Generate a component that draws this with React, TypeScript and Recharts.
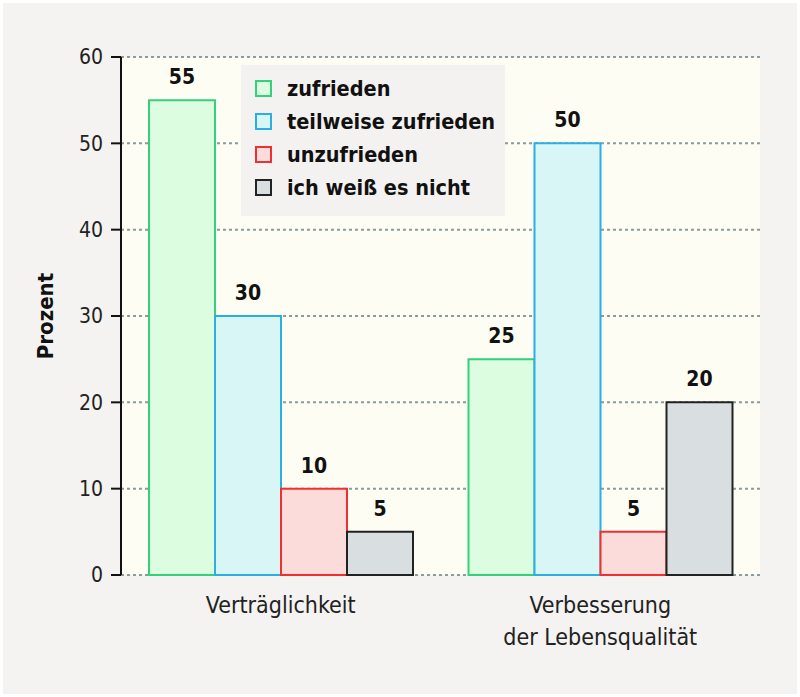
import React from 'react';
import { BarChart, Bar, XAxis, YAxis, CartesianGrid, LabelList, Legend, Label } from 'recharts';

const categories = ['Verträglichkeit', 'Verbesserung\nder Lebensqualität'];
const categoryEdges = [0, 1, 2];
const zufrieden = [55, 25];
const teilweiseZufrieden = [30, 50];
const unzufrieden = [10, 5];
const weissNicht = [5, 20];
const seriesNames = ['zufrieden', 'teilweise zufrieden', 'unzufrieden', 'ich weiß es nicht'];
const yTicks = [0, 10, 20, 30, 40, 50, 60];

const data = categories.map((c, i) => ({
  category: c,
  z: zufrieden[i],
  t: teilweiseZufrieden[i],
  u: unzufrieden[i],
  w: weissNicht[i],
}));

const FONT = '"DejaVu Sans Condensed", "DejaVu Sans", sans-serif';

const seriesStyle = [
  { key: 'z', stroke: '#33d27a', fill: '#dcfde0' },
  { key: 't', stroke: '#2aaee6', fill: '#d9f6f7' },
  { key: 'u', stroke: '#f03030', fill: '#fcdcdb' },
  { key: 'w', stroke: '#222222', fill: '#d9dfe0' },
];

const CategoryTick = (props: any) => {
  const { x, y, payload } = props;
  const lines = String(payload.value).split('\n');
  return (
    <g>
      {lines.map((ln, i) => (
        <text key={i} x={x} y={y + 38 + i * 32} textAnchor="middle" fontSize={23} fontFamily={FONT} fill="#222">
          {ln}
        </text>
      ))}
    </g>
  );
};

const renderLegend = () => (
  <div
    style={{
      background: '#f3f2f0',
      width: 264,
      height: 151,
      boxSizing: 'border-box',
      paddingTop: 7,
      paddingLeft: 14,
      fontFamily: FONT,
    }}
  >
    {seriesNames.map((name, i) => (
      <div key={name} style={{ display: 'flex', alignItems: 'center', height: 33, whiteSpace: 'nowrap' }}>
        <span
          style={{
            display: 'inline-block',
            flex: 'none',
            width: 13,
            height: 13,
            border: `2px solid ${seriesStyle[i].stroke}`,
            background: seriesStyle[i].fill,
            marginRight: 15,
          }}
        />
        <span style={{ fontSize: 21.5, fontWeight: 700, color: '#111' }}>{name}</span>
      </div>
    ))}
  </div>
);

export default function App() {
  return (
    <div style={{ position: 'absolute', left: 0, top: 0, width: 800, height: 697, background: '#ffffff' }}>
      <div style={{ position: 'absolute', left: 3, top: 3, width: 794, height: 691, background: '#f4f3f1' }} />
      <div style={{ position: 'absolute', left: 0, top: 0 }}>
        <BarChart
          width={800}
          height={697}
          data={data}
          margin={{ top: 57, right: 40, bottom: 62, left: 41 }}
          barCategoryGap={28}
          barGap={0}
        >
          <CartesianGrid vertical={false} stroke="#8a9c9e" strokeWidth={2} strokeDasharray="3 3" fill="#fefdf3" />
          <XAxis
            xAxisId="edge"
            type="number"
            domain={[0, 2]}
            ticks={categoryEdges}
            height={0}
            tick={false}
            tickSize={12}
            tickLine={{ stroke: '#111', strokeWidth: 2 }}
            axisLine={{ stroke: '#111', strokeWidth: 2 }}
          />
          <XAxis
            xAxisId="cat"
            dataKey="category"
            height={60}
            tickLine={false}
            axisLine={false}
            tickSize={0}
            tickMargin={0}
            tick={<CategoryTick />}
            interval={0}
          />
          <YAxis
            width={80}
            domain={[0, 60]}
            ticks={yTicks}
            tickSize={10}
            tickMargin={8}
            tick={{ fontSize: 21, fontFamily: FONT, fill: '#222' }}
            tickLine={{ stroke: '#111', strokeWidth: 2 }}
            axisLine={{ stroke: '#111', strokeWidth: 2 }}
          >
            <Label
              value="Prozent"
              angle={-90}
              position="insideLeft"
              offset={4}
              style={{ textAnchor: 'middle', fontSize: 22, fontWeight: 700, fontFamily: FONT, fill: '#111' }}
            />
          </YAxis>
          <Legend
            layout="vertical"
            align="center"
            verticalAlign="middle"
            content={renderLegend}
            wrapperStyle={{ position: 'absolute', left: 241, top: 65, width: 264, height: 151 }}
          />
          {seriesStyle.map((s, i) => (
            <Bar
              key={s.key}
              xAxisId="cat"
              dataKey={s.key}
              name={seriesNames[i]}
              fill={s.fill}
              stroke={s.stroke}
              strokeWidth={2}
              isAnimationActive={false}
            >
              <LabelList
                dataKey={s.key}
                position="top"
                offset={16}
                style={{ fontSize: 21, fontWeight: 700, fontFamily: FONT, fill: '#111' }}
              />
            </Bar>
          ))}
        </BarChart>
      </div>
    </div>
  );
}
